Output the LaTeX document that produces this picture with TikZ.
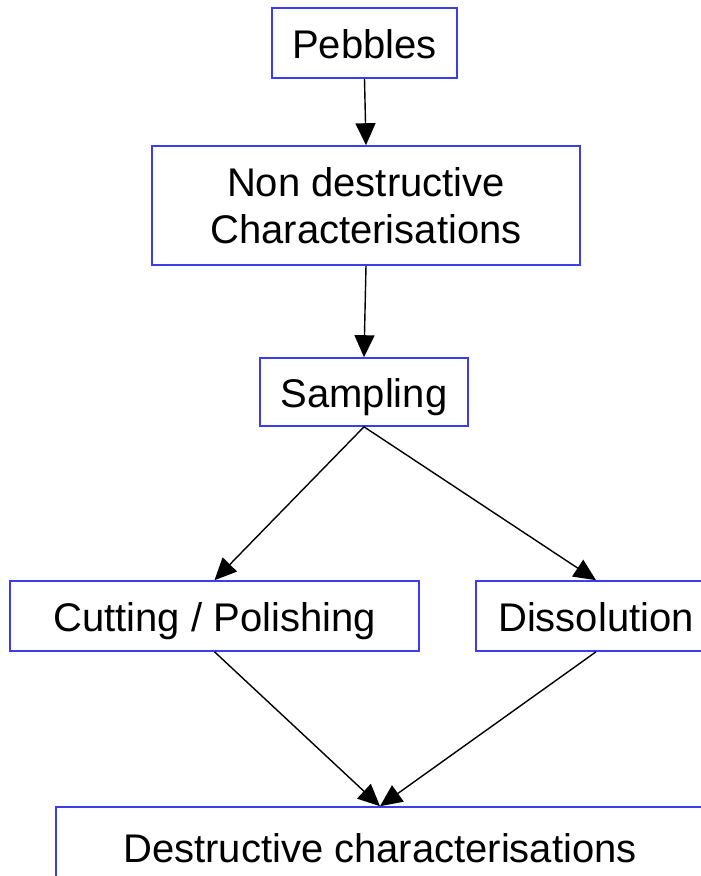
\documentclass[tikz,border=0pt]{standalone}
\usepackage{fontspec}
\setmainfont{Liberation Sans}
\usetikzlibrary{arrows.meta}
\definecolor{boxblue}{RGB}{60,60,240}
\tikzset{
  boxbase/.style={draw=boxblue, line width=1.6pt, fill=white, inner sep=0pt, font=\fontsize{40}{47}\selectfont, align=center},
  box/.style={boxbase, text height=36pt, text depth=6pt},
  conn/.style={line width=1.4pt, -{Triangle[length=22pt,width=20pt]}}
}
\begin{document}
\begin{tikzpicture}[x=1pt,y=1pt]
\useasboundingbox (0,0) rectangle (701,-876);
\clip (0,0) rectangle (701,-876);
\node[box, minimum width=185pt, minimum height=70pt] (peb) at (364.5,-43) {Pebbles};
\node[boxbase, minimum width=428pt, minimum height=119pt] (nd) at (366,-205.5) {Non destructive\\Characterisations};
\node[box, minimum width=208pt, minimum height=68pt] (samp) at (364,-392) {Sampling};
\node[box, minimum width=409pt, minimum height=70pt] (cut) at (214.5,-616) {Cutting / Polishing};
\node[box, minimum width=240pt, minimum height=70pt] (dis) at (596,-616) {Dissolution};
\node[box, minimum width=648pt, minimum height=80pt] (des) at (380,-847) {Destructive characterisations};
\draw[conn] (peb.south) -- (nd.north);
\draw[conn] (nd.south) -- (samp.north);
\draw[conn] (samp.south) -- (cut.north);
\draw[conn] (samp.south) -- (dis.north);
\draw[conn] (cut.south) -- (des.north);
\draw[conn] (dis.south) -- (des.north);
\end{tikzpicture}
\end{document}
